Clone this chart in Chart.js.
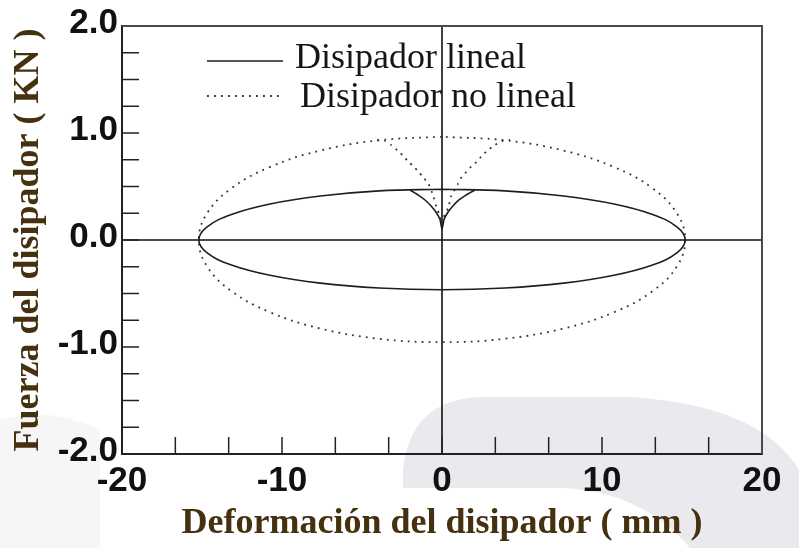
<!DOCTYPE html>
<html>
<head>
<meta charset="utf-8">
<script src="https://cdn.jsdelivr.net/npm/chart.js"></script>
<style>
  html, body { margin: 0; padding: 0; background: #fff; }
  canvas { display: block; }
</style>
</head>
<body>
<canvas id="chart" width="799" height="548"></canvas>
<script>
// --- Данные ---
const seriesLabels = ['Disipador lineal', 'Disipador no lineal'];

// петля линейного демпфера (начинаем сверху при x = 0, идём против часовой)
const linealLoopX = [0, -3.93, -7.6, -10.75, -13.16, -14.68, -15.2, -14.68, -13.16, -10.75, -7.6, -3.93, 0,
                     3.93, 7.6, 10.75, 13.16, 14.68, 15.2, 14.68, 13.16, 10.75, 7.6, 3.93, 0];
const linealLoopY = [0.475, 0.459, 0.411, 0.336, 0.238, 0.123, 0, -0.120, -0.233, -0.329, -0.403, -0.449, -0.465,
                     -0.449, -0.403, -0.329, -0.233, -0.120, 0, 0.123, 0.238, 0.336, 0.411, 0.459, 0.475];
// начальный «клюв» у нуля
const linealCuspX = [-2.0, -1.48, -1.06, -0.64, -0.33, -0.12, 0, 0.12, 0.33, 0.64, 1.06, 1.5, 2.06];
const linealCuspY = [0.467, 0.42, 0.374, 0.311, 0.25, 0.19, 0.1, 0.19, 0.25, 0.311, 0.374, 0.42, 0.467];

// петля нелинейного демпфера
const noLinealLoopX = [0, -3.93, -7.6, -10.75, -13.16, -14.68, -15.2, -14.68, -13.16, -10.75, -7.6, -3.93, 0,
                       3.93, 7.6, 10.75, 13.16, 14.68, 15.2, 14.68, 13.16, 10.75, 7.6, 3.93, 0];
const noLinealLoopY = [0.965, 0.932, 0.836, 0.682, 0.483, 0.25, 0, -0.247, -0.478, -0.675, -0.827, -0.923, -0.955,
                       -0.923, -0.827, -0.675, -0.478, -0.247, 0, 0.25, 0.483, 0.682, 0.836, 0.932, 0.965];
const noLinealCuspX = [-4.05, -3.56, -3.15, -2.77, -2.42, -2.1, -1.79, -1.48, -1.2, -0.85, -0.54, -0.33, -0.17, 0,
                       0.17, 0.4, 0.56, 0.98, 1.23, 1.54, 1.85, 2.17, 2.48, 2.83, 3.31, 3.83, 4.25];
const noLinealCuspY = [0.935, 0.925, 0.885, 0.835, 0.785, 0.73, 0.69, 0.64, 0.59, 0.525, 0.41, 0.30, 0.24, 0.15,
                       0.24, 0.30, 0.405, 0.52, 0.59, 0.64, 0.69, 0.73, 0.785, 0.835, 0.888, 0.928, 0.935];

// деления осей
const xTickValues = [-20, -50 / 3, -40 / 3, -10, -20 / 3, -10 / 3, 0, 10 / 3, 20 / 3, 10, 40 / 3, 50 / 3, 20];
const xTickLabels = ['-20', '', '', '-10', '', '', '0', '', '', '10', '', '', '20'];
const yTickValues = [-2, -1.75, -1.5, -1.25, -1, -0.75, -0.5, -0.25, 0, 0.25, 0.5, 0.75, 1, 1.25, 1.5, 1.75, 2];
const yTickLabels = ['-2.0', '', '', '', '-1.0', '', '', '', '0.0', '', '', '', '1.0', '', '', '', '2.0'];

const xTitle = 'Deformación del disipador ( mm )';
const yTitle = 'Fuerza del disipador ( KN )';

const toPoints = (xs, ys) => xs.map((x, i) => ({ x, y: ys[i] }));

// --- Стили ---
const SOLID = { borderColor: '#1e1e1e', borderWidth: 1.6, borderDash: [] };
const DOTTED = { borderColor: '#333333', borderWidth: 1.8, borderDash: [1.8, 5.2] };
const TITLE_COLOR = '#45300f';
const TICK_FONT = { family: '"Liberation Sans", Arial, sans-serif', size: 35, weight: 'bold' };
const TITLE_FONT = { family: '"Liberation Serif", "Times New Roman", serif', size: 36, weight: 'bold' };

// --- Плагины ---
const backdropPlugin = {
    id: 'backdrop',
    beforeDraw(chart) {
        const ctx = chart.ctx;
        ctx.save();
        ctx.fillStyle = '#ffffff';
        ctx.fillRect(0, 0, chart.width, chart.height);
        // бледный водяной знак снизу
        ctx.fillStyle = '#f6f6f7';
        ctx.beginPath();
        ctx.moveTo(0, 420);
        ctx.quadraticCurveTo(50, 405, 100, 430);
        ctx.lineTo(100, 548);
        ctx.lineTo(0, 548);
        ctx.closePath();
        ctx.fill();
        ctx.fillStyle = '#eaeaee';
        ctx.beginPath();
        ctx.moveTo(403, 488);
        ctx.lineTo(403, 470);
        ctx.quadraticCurveTo(410, 400, 480, 397);
        ctx.lineTo(630, 397);
        ctx.quadraticCurveTo(760, 405, 799, 470);
        ctx.lineTo(799, 548);
        ctx.lineTo(690, 548);
        ctx.quadraticCurveTo(640, 490, 560, 488);
        ctx.closePath();
        ctx.fill();
        ctx.restore();
    },
    beforeDatasetsDraw(chart) {
        const { ctx, chartArea: a, scales: { x, y } } = chart;
        ctx.save();
        ctx.strokeStyle = '#111';
        ctx.lineWidth = 1.6;
        const x0 = x.getPixelForValue(0);
        const y0 = y.getPixelForValue(0);
        ctx.beginPath();
        ctx.moveTo(a.left, y0); ctx.lineTo(a.right, y0);
        ctx.moveTo(x0, a.top); ctx.lineTo(x0, a.bottom);
        ctx.stroke();

        // внутренние засечки
        ctx.strokeStyle = '#222';
        ctx.lineWidth = 1.5;
        ctx.beginPath();
        x.ticks.forEach(t => {
            const px = x.getPixelForValue(t.value);
            ctx.moveTo(px, a.bottom); ctx.lineTo(px, a.bottom - 17);
        });
        y.ticks.forEach(t => {
            const py = y.getPixelForValue(t.value);
            ctx.moveTo(a.left, py); ctx.lineTo(a.left + 17, py);
        });
        ctx.stroke();

        // верх и правая рамка
        ctx.strokeStyle = '#4a4a4a';
        ctx.lineWidth = 2;
        ctx.beginPath();
        ctx.moveTo(a.left, a.top); ctx.lineTo(a.right, a.top); ctx.lineTo(a.right, a.bottom);
        ctx.stroke();
        ctx.restore();
    }
};

const legendPlugin = {
    id: 'insideLegend',
    afterDraw(chart) {
        const ctx = chart.ctx;
        const items = [
            { ds: chart.data.datasets[0], y: 61, textX: 295, base: 68 },
            { ds: chart.data.datasets[2], y: 96, textX: 300, base: 107 },
        ];
        ctx.save();
        items.forEach(it => {
            ctx.strokeStyle = it.ds.borderColor;
            ctx.lineWidth = it.ds.borderWidth;
            ctx.setLineDash(it.ds.borderDash);
            ctx.beginPath();
            ctx.moveTo(207, it.y); ctx.lineTo(283, it.y);
            ctx.stroke();
            ctx.setLineDash([]);
            ctx.fillStyle = '#161616';
            ctx.font = '36px "Liberation Serif", "Times New Roman", serif';
            ctx.textBaseline = 'alphabetic';
            ctx.fillText(it.ds.label, it.textX, it.base);
        });
        ctx.restore();
    }
};

// --- График ---
const ctx = document.getElementById('chart').getContext('2d');
new Chart(ctx, {
    type: 'line',
    data: {
        datasets: [
            { label: seriesLabels[0], data: toPoints(linealLoopX, linealLoopY), tension: 0.4, ...SOLID },
            { label: seriesLabels[0], data: toPoints(linealCuspX, linealCuspY), tension: 0.2, ...SOLID },
            { label: seriesLabels[1], data: toPoints(noLinealLoopX, noLinealLoopY), tension: 0.4, ...DOTTED },
            { label: seriesLabels[1], data: toPoints(noLinealCuspX, noLinealCuspY), tension: 0.2, ...DOTTED },
        ]
    },
    options: {
        responsive: false,
        animation: false,
        layout: { padding: { top: 26, right: 37, left: 0, bottom: 0 } },
        elements: { point: { radius: 0, hoverRadius: 0 } },
        plugins: { legend: { display: false }, tooltip: { enabled: false } },
        scales: {
            x: {
                type: 'linear',
                min: -20,
                max: 20,
                afterBuildTicks: s => { s.ticks = xTickValues.map(v => ({ value: v })); },
                afterFit: s => { s.height = 94; },
                grid: { display: false, drawTicks: false },
                border: { display: true, color: '#222', width: 2 },
                ticks: {
                    autoSkip: false,
                    maxRotation: 0,
                    padding: 6,
                    color: '#111',
                    font: TICK_FONT,
                    callback: (v, i) => xTickLabels[i]
                },
                title: {
                    display: true,
                    text: xTitle,
                    color: TITLE_COLOR,
                    padding: { top: 0, bottom: 3 },
                    font: TITLE_FONT
                }
            },
            y: {
                type: 'linear',
                min: -2,
                max: 2,
                afterBuildTicks: s => { s.ticks = yTickValues.map(v => ({ value: v })); },
                afterFit: s => { s.width = 122; },
                grid: { display: false, drawTicks: false },
                border: { display: true, color: '#222', width: 2 },
                ticks: {
                    autoSkip: false,
                    padding: 4,
                    labelOffset: -3,
                    color: '#111',
                    font: TICK_FONT,
                    callback: (v, i) => yTickLabels[i]
                },
                title: {
                    display: true,
                    text: yTitle,
                    color: TITLE_COLOR,
                    padding: { top: 7, bottom: 0 },
                    font: TITLE_FONT
                }
            }
        }
    },
    plugins: [backdropPlugin, legendPlugin]
});
</script>
</body>
</html>
